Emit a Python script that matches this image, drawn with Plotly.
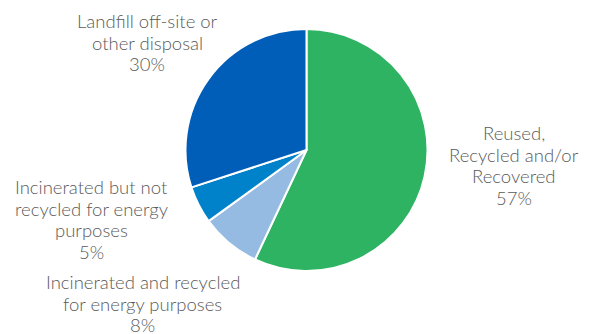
import plotly.graph_objects as go

# Waste destination shares (%)
categories = [
    "Reused,<br>Recycled and/or<br>Recovered",
    "Incinerated and recycled<br>for energy purposes",
    "Incinerated but not<br>recycled for energy<br>purposes",
    "Landfill off-site or<br>other disposal",
]
values = [57, 8, 5, 30]
colors = ["#2EB362", "#95BBE3", "#0082CA", "#005EB8"]

# label anchor: centre x and first-line baseline y, in pixels from top-left
label_pos = [(513.5, 139), (142.5, 288), (91.5, 193), (147, 27)]
LINE_STEP = 21.5
FONT_SIZE = 18.5

W, H = 595, 334

fig = go.Figure(
    go.Pie(
        labels=[c.replace("<br>", " ") for c in categories],
        values=values,
        sort=False,
        direction="clockwise",
        rotation=0,
        marker=dict(colors=colors, line=dict(color="white", width=2)),
        textinfo="none",
        hoverinfo="label+percent",
        showlegend=False,
        domain=dict(x=[185 / W, 428 / W], y=[1 - 271 / H, 1 - 29 / H]),
    )
)

for cat, val, (px, base) in zip(categories, values, label_pos):
    lines = cat.split("<br>") + [f"{val}%"]
    for i, line in enumerate(lines):
        # centre of the text box sits a little above its baseline
        cy = base + i * LINE_STEP - 0.32 * FONT_SIZE
        fig.add_annotation(
            x=px / W,
            y=1 - cy / H,
            xref="paper",
            yref="paper",
            xanchor="center",
            yanchor="middle",
            align="center",
            showarrow=False,
            text=line,
            font=dict(family="Lato", size=FONT_SIZE, color="#5a5a5a", weight=300),
        )

fig.update_layout(
    width=W,
    height=H,
    margin=dict(l=0, r=0, t=0, b=0),
    paper_bgcolor="white",
    plot_bgcolor="white",
)

fig.write_html("out.html")
